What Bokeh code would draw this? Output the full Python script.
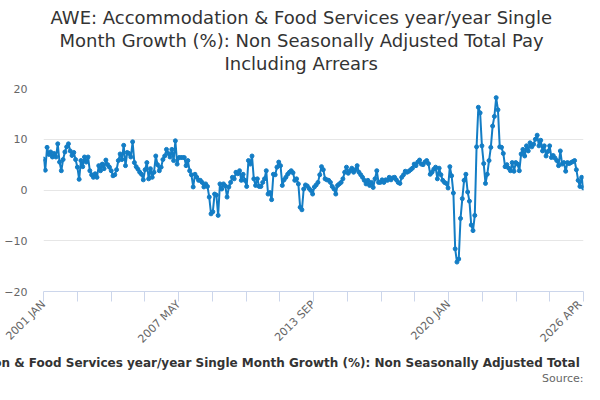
import numpy as np
from bokeh.plotting import figure
from bokeh.models import Range1d, FixedTicker, Title, ColumnDataSource
from bokeh.embed import file_html
from bokeh.resources import INLINE

# ---- data (monthly, 2001 JAN .. 2026 APR) ----
y2001 = [6.1, 3.9, 8.4, 7.0, 7.5, 6.5, 7.2, 6.5, 9.1, 5.5, 3.8, 6.0]
y2002 = [7.5, 8.5, 9.1, 7.7, 6.8, 7.4, 6.0, 4.5, 2.1, 5.8, 4.6, 6.5]
y2003 = [5.5, 6.5, 3.8, 3.0, 2.5, 3.2, 2.5, 4.8, 3.8, 5.1, 4.2, 5.9]
y2004 = [5.0, 4.5, 3.8, 2.8, 3.0, 4.0, 5.8, 7.1, 6.0, 8.8, 4.8, 7.4]
y2005 = [7.2, 6.5, 9.5, 5.4, 4.6, 4.1, 3.5, 3.1, 2.0, 4.0, 5.4, 2.2]
y2006 = [4.2, 2.5, 3.5, 6.7, 5.0, 3.8, 4.5, 6.0, 6.7, 8.0, 7.2, 6.5]
y2007 = [8.0, 5.8, 9.7, 5.1, 6.4, 6.4, 6.4, 6.4, 4.8, 5.8, 3.8, 3.0]
y2008 = [0.6, 3.1, 2.5, 1.9, 1.9, 1.5, 0.6, 1.2, 0.7, -1.4, -4.7, -4.3]
y2009 = [-0.8, -1.0, -5.0, 1.2, 0.2, 1.2, 0.8, -1.4, 0.6, 1.5, 2.5, 2.2]
y2010 = [3.5, 3.2, 3.8, 1.9, 3.1, 1.9, 0.7, 5.8, 5.1, 6.7, 2.2, 0.9]
y2011 = [2.2, 0.7, 0.7, 1.5, 2.2, 3.8, -0.8, -0.5, -1.9, 3.1, 3.0, 4.5]
y2012 = [5.5, 4.8, 0.9, 2.0, 2.5, 3.1, 3.5, 3.8, 3.4, 1.9, 2.2, 1.2]
y2013 = [-3.4, -3.9, 0.2, 1.0, 0.8, 0.3, -0.1, -0.8, 0.6, 1.0, 1.5, 3.0]
y2014 = [4.6, 4.0, 2.2, 2.0, 1.9, 1.5, 0.7, 0.2, -0.8, 0.9, 1.2, 1.5]
y2015 = [2.2, 3.5, 4.5, 3.3, 3.8, 4.3, 3.5, 4.0, 4.8, 3.5, 3.0, 2.5]
y2016 = [1.9, 1.2, 1.9, 0.9, 1.5, 0.5, 2.2, 3.8, 1.5, 1.5, 2.0, 1.5]
y2017 = [2.0, 1.9, 2.5, 2.0, 2.4, 2.5, 2.0, 1.5, 1.3, 2.5, 3.0, 3.7]
y2018 = [3.5, 3.7, 4.0, 4.3, 5.1, 4.8, 5.5, 5.9, 5.1, 5.0, 5.5, 5.8]
y2019 = [5.2, 3.1, 3.5, 4.1, 4.5, 2.2, 4.3, 3.0, 1.9, 1.5, 1.3, 0.4]
y2020 = [4.6, 2.8, -0.6, -11.6, -14.2, -13.6, -5.6, -1.7, 1.9, 3.1, -0.4, -2.2]
y2021 = [-6.9, -8.0, -5.0, 8.5, 16.3, 15.2, 8.7, 5.2, 1.3, 3.1, 5.8, 8.4]
y2022 = [12.6, 14.5, 18.2, 15.8, 8.5, 8.4, 7.2, 4.6, 5.0, 4.3, 3.8, 5.4]
y2023 = [3.7, 5.4, 5.1, 3.8, 7.1, 8.0, 6.7, 8.7, 7.7, 9.3, 8.5, 9.0]
y2024 = [10.0, 10.8, 8.7, 9.8, 7.7, 8.7, 6.7, 7.6, 8.7, 6.4, 6.8, 6.3]
y2025 = [5.8, 4.8, 7.7, 5.1, 5.4, 3.7, 5.4, 5.2, 5.4, 5.6, 5.8, 4.0]
y2026 = [1.9, 0.7, 2.5, 0.4]

values = (y2001 + y2002 + y2003 + y2004 + y2005 + y2006 + y2007 + y2008 + y2009
          + y2010 + y2011 + y2012 + y2013 + y2014 + y2015 + y2016 + y2017 + y2018
          + y2019 + y2020 + y2021 + y2022 + y2023 + y2024 + y2025 + y2026)
months = list(range(len(values)))

tick_labels = ["2001 JAN", "2007 MAY", "2013 SEP", "2020 JAN", "2026 APR"]
y_ticks = [-20, -10, 0, 10, 20]

title_lines = ["AWE: Accommodation & Food Services year/year Single",
               "Month Growth (%): Non Seasonally Adjusted Total Pay",
               "Including Arrears"]
series_name = ("AWE: Accommodation & Food Services year/year Single Month Growth (%): "
               "Non Seasonally Adjusted Total Pay Including Arrears")
source_text = "Source:"

# ---- layout ----
W, H = 584, 384
last = len(values) - 1

p = figure(width=W, height=H, output_backend="svg", toolbar_location=None,
           x_range=Range1d(0, last), y_range=Range1d(-20, 20),
           min_border_left=43, min_border_right=1,
           min_border_top=88, min_border_bottom=92)
p.outline_line_color = None
p.background_fill_color = "white"
p.border_fill_color = "white"

src = ColumnDataSource(dict(x=months, y=values))
color = "#137dc5"
p.line("x", "y", source=src, line_color=color, line_width=2)
p.scatter("x", "y", source=src, size=4, fill_color=color, line_color=color)

# x axis ticks: 16 equal intervals, label every 4th
n_int = 16
xt = [last * i / n_int for i in range(n_int + 1)]
p.xaxis.ticker = FixedTicker(ticks=xt, minor_ticks=[])
overrides = {}
for i, t in enumerate(xt):
    overrides[t] = tick_labels[i // 4] if i % 4 == 0 else ""
p.xaxis.major_label_overrides = overrides
p.xaxis.major_label_orientation = np.pi / 4
p.xaxis.axis_line_color = "#ccd6eb"
p.xaxis.major_tick_line_color = "#ccd6eb"
p.xaxis.major_tick_out = 10
p.xaxis.major_tick_in = 0
p.xaxis.minor_tick_line_color = None
p.xaxis.major_label_text_color = "#666666"
p.xaxis.major_label_text_font = "DejaVu Sans"
p.xaxis.major_label_text_font_size = "11px"
p.xaxis.major_label_standoff = 1

p.yaxis.ticker = FixedTicker(ticks=y_ticks, minor_ticks=[])
p.yaxis.axis_line_color = None
p.yaxis.major_tick_line_color = None
p.yaxis.major_tick_out = 0
p.yaxis.major_tick_in = 0
p.yaxis.minor_tick_line_color = None
p.yaxis.major_label_text_color = "#666666"
p.yaxis.major_label_text_font = "DejaVu Sans"
p.yaxis.major_label_text_font_size = "11px"
p.yaxis.major_label_standoff = 16

p.xgrid.grid_line_color = None
p.ygrid.grid_line_color = "#e6e6e6"
p.ygrid.ticker = FixedTicker(ticks=y_ticks)

# spacer between the plot area and the title block (nearest the frame)
p.add_layout(Title(text=" ", align="left", text_font="DejaVu Sans",
                   text_font_size="10px", standoff=2), "above")

# title lines: first added sits nearest the frame
title_offsets = [7, 16, 181]
for i in (2, 1, 0):
    p.add_layout(Title(text=title_lines[i], align="left", offset=title_offsets[i],
                       text_font="DejaVu Sans", text_font_size="18px",
                       text_font_style="normal", text_color="#333333",
                       standoff=0), "above")

p.add_layout(Title(text=series_name, align="left", offset=-181,
                   text_font="DejaVu Sans", text_font_size="12px",
                   text_font_style="bold", text_color="#333333",
                   standoff=0), "below")
p.add_layout(Title(text=source_text, align="right",
                   text_font="DejaVu Sans", text_font_size="11px",
                   text_font_style="normal", text_color="#666666",
                   standoff=0), "below")

open("out.html", "w").write(file_html(p, INLINE))
